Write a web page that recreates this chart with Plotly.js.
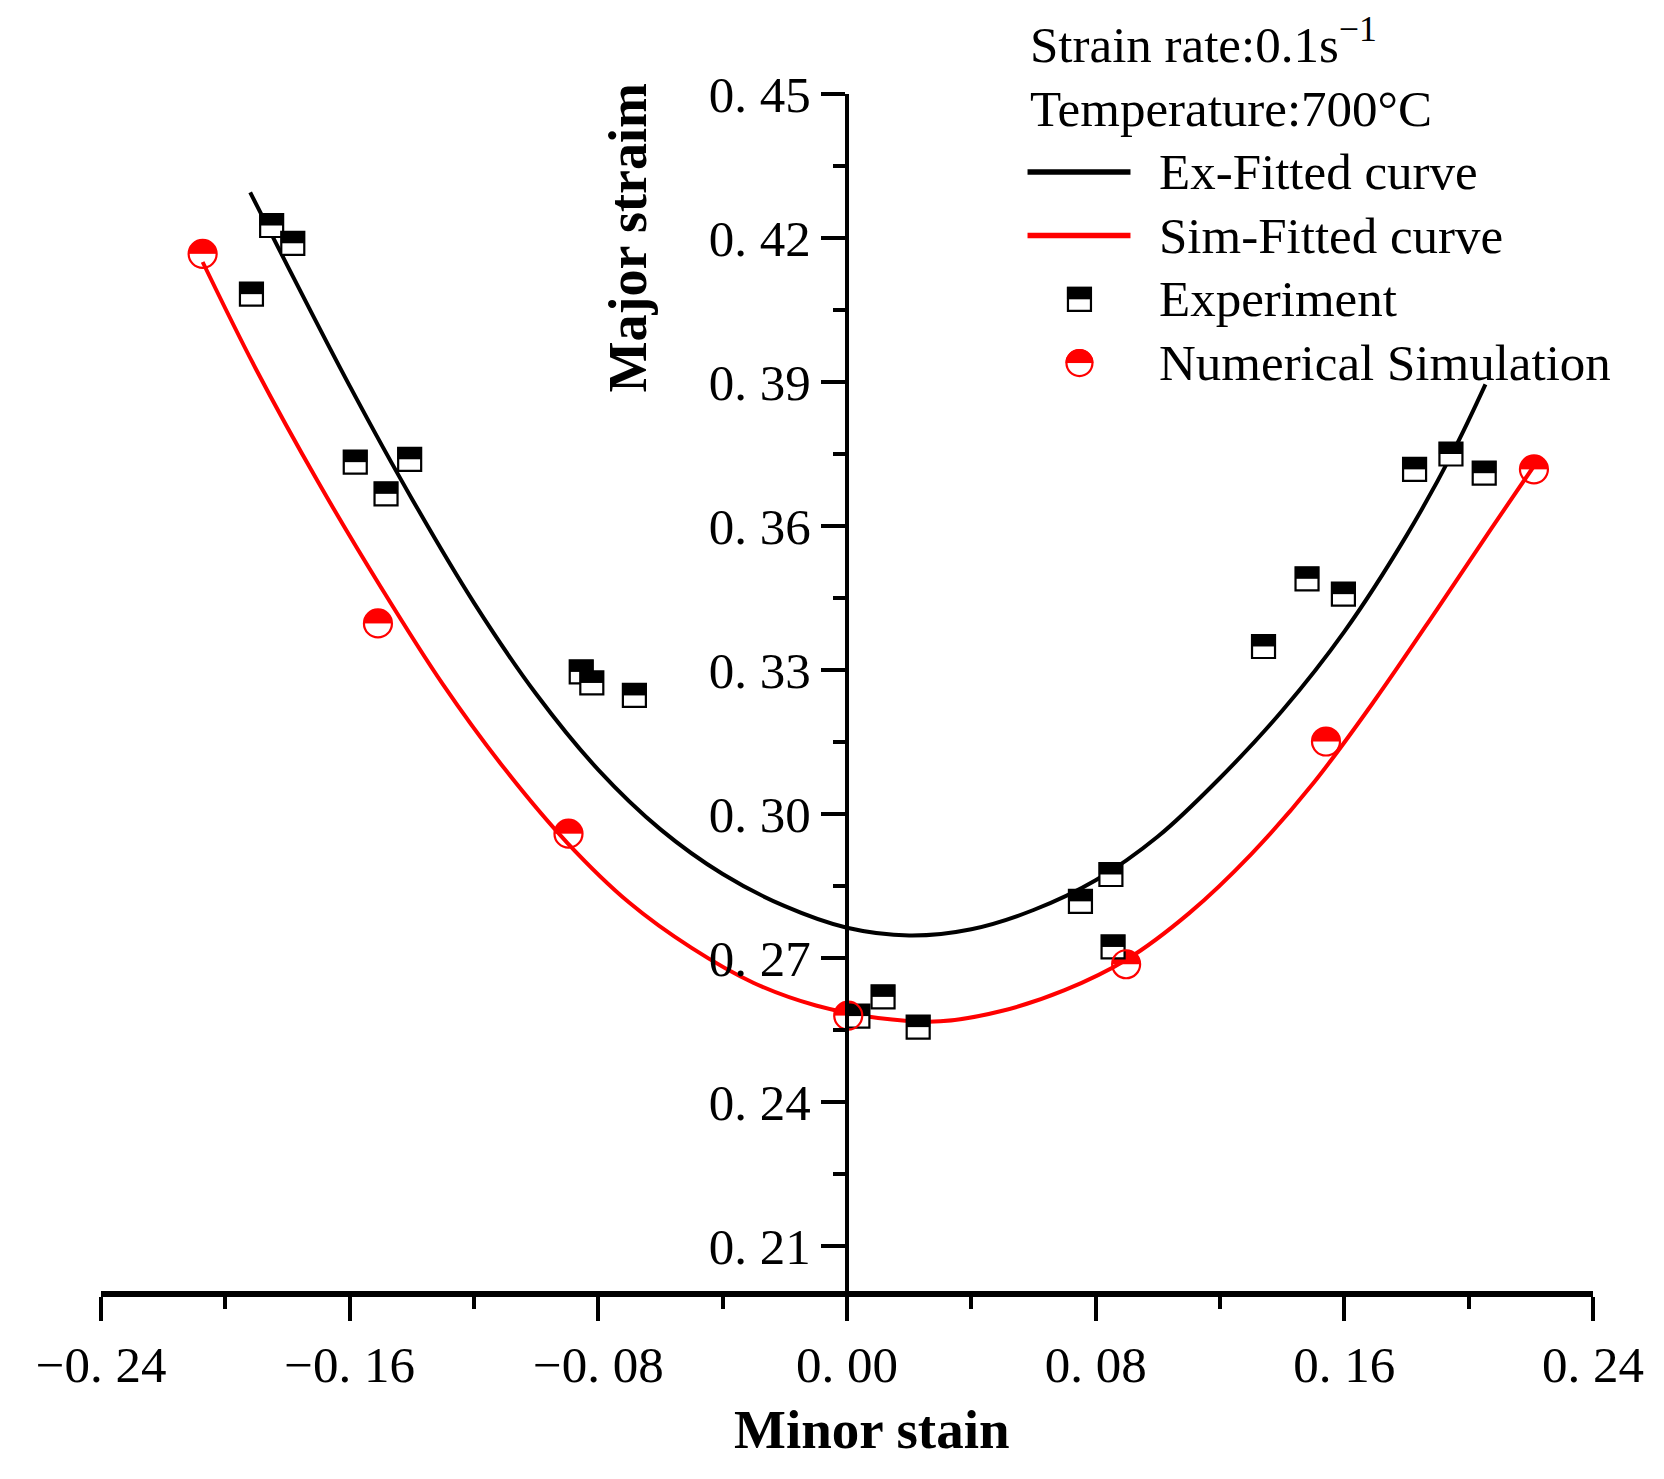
<!DOCTYPE html>
<html>
<head>
<meta charset="utf-8">
<script src="https://cdn.plot.ly/plotly-3.0.1.min.js"></script>
<style>
html,body{margin:0;padding:0;background:#ffffff;}
#chart{width:1664px;height:1479px;}
</style>
</head>
<body>
<div id="chart"></div>
<script>
// ---- Data ----
const expX = [-0.1916,-0.1851,-0.1783,-0.1582,-0.1483,-0.1407,-0.0855,-0.0821,-0.0684,0.0035,0.0116,0.0229,0.0751,0.0849,0.0856,0.1340,0.1480,0.1597,0.1826,0.1943,0.2050];
const expY = [0.4083,0.4226,0.4189,0.3733,0.3667,0.3739,0.3296,0.3273,0.3247,0.2579,0.2619,0.2556,0.2818,0.2874,0.2723,0.3349,0.3490,0.3458,0.3718,0.3750,0.3710];

const simX = [-0.2073,-0.1509,-0.0896,0.0004,0.0898,0.1541,0.2210];
const simY = [0.4167,0.3397,0.2959,0.2580,0.2687,0.3151,0.3718];

const exFitX = [-0.1920,-0.18,-0.16,-0.14,-0.12,-0.10,-0.08,-0.06,-0.04,-0.02,0.00,0.02,0.04,0.06,0.08,0.10,0.12,0.14,0.16,0.18,0.195,0.2054];
const exFitY = [0.4295,0.4142,0.3892,0.3657,0.3440,0.3250,0.3092,0.2968,0.2875,0.2808,0.2763,0.2747,0.2760,0.2800,0.2862,0.2953,0.3075,0.3215,0.3380,0.3580,0.3755,0.3895];

const simFitX = [-0.2073,-0.19,-0.17,-0.15,-0.13,-0.11,-0.09,-0.07,-0.05,-0.03,-0.01,0.01,0.03,0.05,0.07,0.09,0.11,0.13,0.15,0.17,0.19,0.207,0.221];
const simFitY = [0.4150,0.3925,0.3690,0.3473,0.3270,0.3093,0.2940,0.2815,0.2721,0.2648,0.2601,0.2575,0.2568,0.2590,0.2633,0.2697,0.2793,0.2916,0.3064,0.3239,0.3428,0.3592,0.3725];

const xTickVals = [-0.24,-0.16,-0.08,0,0.08,0.16,0.24];
const xTickText = ['\u22120. 24','\u22120. 16','\u22120. 08','0. 00','0. 08','0. 16','0. 24'];
const xMinorVals = [-0.20,-0.12,-0.04,0.04,0.12,0.20];
const yTickVals = [0.21,0.24,0.27,0.30,0.33,0.36,0.39,0.42,0.45];
const yTickText = ['0. 21','0. 24','0. 27','0. 30','0. 33','0. 36','0. 39','0. 42','0. 45'];
const yMinorVals = [0.225,0.255,0.285,0.315,0.345,0.375,0.405,0.435];

const legendNames = ['Ex-Fitted curve','Sim-Fitted curve','Experiment','Numerical Simulation'];
const infoLines = ['Strain rate:0.1s<sup>\u22121</sup>','Temperature:700\u00B0C'];
const xTitle = 'Minor stain';
const yTitle = 'Major straim';

// ---- Styling ----
const FONT = 'Liberation Serif, Times New Roman, serif';
const RED = '#ff0000';

const traces = [
  // numerical simulation: red disc (base)
  {x: simX, y: simY, type:'scatter', mode:'markers', showlegend:false, hoverinfo:'skip',
   marker:{symbol:'circle', size:28, color:RED, line:{width:0}}},
  // white lower half of the disc
  {x: simX, y: simY, type:'scatter', mode:'markers', showlegend:false, hoverinfo:'skip',
   marker:{symbol:'line-ew', size:21.4, color:'#ffffff', angle:0, standoff:7.5,
           line:{color:'#ffffff', width:15}}},
  // fitted curves
  {x: exFitX, y: exFitY, type:'scatter', mode:'lines', name:legendNames[0], showlegend:false,
   line:{color:'#000000', width:4, shape:'spline', smoothing:1, simplify:false}},
  {x: simFitX, y: simFitY, type:'scatter', mode:'lines', name:legendNames[1], showlegend:false,
   line:{color:RED, width:4, shape:'spline', smoothing:1, simplify:false}},
  // experiment squares: white square with black outline
  {x: expX, y: expY, type:'scatter', mode:'markers', name:legendNames[2], showlegend:false,
   marker:{symbol:'square', size:23, color:'#ffffff', line:{color:'#000000', width:2.2}}},
  // black upper half of squares
  {x: expX, y: expY, type:'scatter', mode:'markers', showlegend:false, hoverinfo:'skip',
   marker:{symbol:'line-ew', size:17.2, color:'#000000', angle:180, standoff:6,
           line:{color:'#000000', width:12}}},
  // red outline of the simulation circles
  {x: simX, y: simY, type:'scatter', mode:'markers', name:legendNames[3], showlegend:false,
   marker:{symbol:'circle', size:28, color:'rgba(0,0,0,0)', line:{color:RED, width:2.2}}}
];

// legend geometry (paper coords)
const LX0 = 0.6210, LX1 = 0.6900, LMX = 0.6558, LTX = 0.7078;
const rowY = [0.9350, 0.8820, 0.8289, 0.7758];
const infoY = [1.0440, 0.9878];

const shapes = [
  {type:'line', xref:'paper', yref:'paper', x0:LX0, x1:LX1, y0:rowY[0], y1:rowY[0], line:{color:'#000000', width:5.5}},
  {type:'line', xref:'paper', yref:'paper', x0:LX0, x1:LX1, y0:rowY[1], y1:rowY[1], line:{color:RED, width:5.5}},
  // experiment key
  {type:'rect', xref:'paper', yref:'paper', xsizemode:'pixel', ysizemode:'pixel', xanchor:LMX, yanchor:rowY[2],
   x0:-11.5, x1:11.5, y0:-11.5, y1:11.5, fillcolor:'#ffffff', line:{color:'#000000', width:2.2}},
  {type:'rect', xref:'paper', yref:'paper', xsizemode:'pixel', ysizemode:'pixel', xanchor:LMX, yanchor:rowY[2],
   x0:-12.5, x1:12.5, y0:0, y1:12.5, fillcolor:'#000000', line:{width:0}},
  // simulation key
  {type:'circle', xref:'paper', yref:'paper', xsizemode:'pixel', ysizemode:'pixel', xanchor:LMX, yanchor:rowY[3],
   x0:-14, x1:14, y0:-14, y1:14, fillcolor:RED, line:{width:0}},
  {type:'rect', xref:'paper', yref:'paper', xsizemode:'pixel', ysizemode:'pixel', xanchor:LMX, yanchor:rowY[3],
   x0:-15, x1:15, y0:-15, y1:0, fillcolor:'#ffffff', line:{width:0}},
  {type:'circle', xref:'paper', yref:'paper', xsizemode:'pixel', ysizemode:'pixel', xanchor:LMX, yanchor:rowY[3],
   x0:-13, x1:13, y0:-13, y1:13, fillcolor:'rgba(0,0,0,0)', line:{color:RED, width:2.2}}
];

const annotations = [
  {text:'<b>'+xTitle+'</b>', xref:'paper', yref:'paper', x:0.5168, y:-0.1133, xanchor:'center', yanchor:'middle',
   showarrow:false, font:{family:FONT, size:55, color:'#000000'}},
  {text:'<b>'+yTitle+'</b>', xref:'paper', yref:'paper', x:0.3532, y:0.8804, xanchor:'center', yanchor:'middle',
   textangle:-90, showarrow:false, font:{family:FONT, size:54, color:'#000000'}},
  {text:infoLines[0], xref:'paper', yref:'paper', x:LX0, y:infoY[0], xanchor:'left', yanchor:'middle',
   showarrow:false, font:{family:FONT, size:51, color:'#000000'}},
  {text:infoLines[1], xref:'paper', yref:'paper', x:LX0, y:infoY[1], xanchor:'left', yanchor:'middle',
   showarrow:false, font:{family:FONT, size:51, color:'#000000'}}
];
legendNames.forEach((n,i) => {
  annotations.push({text:n, xref:'paper', yref:'paper', x:LTX, y:rowY[i], xanchor:'left', yanchor:'middle',
    showarrow:false, font:{family:FONT, size:51, color:'#000000'}});
});

const layout = {
  width:1664, height:1479,
  paper_bgcolor:'#ffffff', plot_bgcolor:'#ffffff',
  margin:{l:101, r:71, t:94, b:185, pad:0},
  showlegend:false,
  font:{family:FONT, color:'#000000'},
  xaxis:{
    range:[-0.24,0.24], anchor:'free', position:0,
    tickmode:'array', tickvals:xTickVals, ticktext:xTickText,
    ticks:'outside', ticklen:24, tickwidth:4, tickcolor:'#000000',
    showline:true, linewidth:6, linecolor:'#000000',
    showgrid:false, zeroline:false,
    tickfont:{family:FONT, size:51, color:'#000000'},
    minor:{tickmode:'array', tickvals:xMinorVals, ticks:'outside', ticklen:12, tickwidth:4, tickcolor:'#000000', showgrid:false}
  },
  yaxis:{
    range:[0.20,0.45], anchor:'free', position:0.5, side:'left',
    tickmode:'array', tickvals:yTickVals, ticktext:yTickText,
    ticks:'outside', ticklen:24, tickwidth:4, tickcolor:'#000000',
    showline:true, linewidth:4, linecolor:'#000000',
    showgrid:false, zeroline:false,
    tickfont:{family:FONT, size:51, color:'#000000'},
    minor:{tickmode:'array', tickvals:yMinorVals, ticks:'outside', ticklen:12, tickwidth:4, tickcolor:'#000000', showgrid:false}
  },
  shapes: shapes,
  annotations: annotations
};

Plotly.newPlot('chart', traces, layout, {staticPlot:true, displayModeBar:false});
</script>
</body>
</html>
